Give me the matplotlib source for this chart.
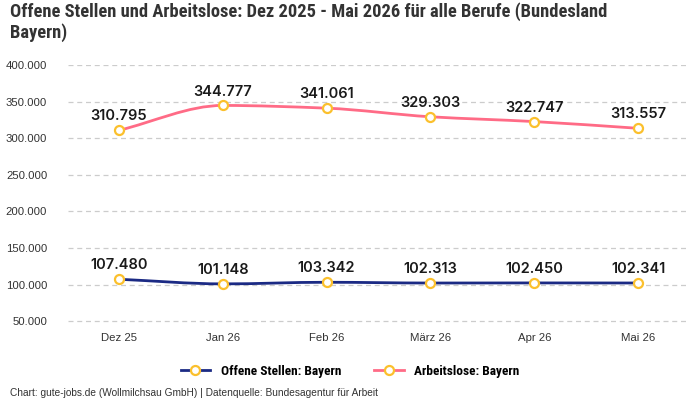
import matplotlib
matplotlib.use("Agg")
import matplotlib.pyplot as plt
from matplotlib import font_manager
from matplotlib.path import Path
from matplotlib.patches import PathPatch
from matplotlib.lines import Line2D
from matplotlib.ticker import FuncFormatter

months = ["Dez 25", "Jan 26", "Feb 26", "März 26", "Apr 26", "Mai 26"]
offene_stellen = [107480, 101148, 103342, 102313, 102450, 102341]
arbeitslose = [310795, 344777, 341061, 329303, 322747, 313557]

navy = "#1b2a84"
pink = "#ff6b86"
marker_edge = "#fbc02d"

installed = {f.name for f in font_manager.fontManager.ttflist}


def pick(*names):
    for n in names:
        if n in installed:
            return n
    return "DejaVu Sans"


narrow = pick("Liberation Sans Narrow", "Roboto Condensed", "DejaVu Sans Condensed", "Roboto")
label_font = pick("Inter", "Open Sans")


def de_fmt(v, pos=None):
    return f"{int(round(v)):,}".replace(",", ".")


def monotone_path(xs, ys):
    # monotone cubic (Fritsch-Carlson) drawn as bezier segments
    n = len(xs)
    d = [(ys[i + 1] - ys[i]) / (xs[i + 1] - xs[i]) for i in range(n - 1)]
    m = [0.0] * n
    m[0], m[-1] = d[0], d[-1]
    for i in range(1, n - 1):
        if d[i - 1] * d[i] <= 0:
            m[i] = 0.0
        else:
            m[i] = 2 / (1 / d[i - 1] + 1 / d[i])
    verts = [(xs[0], ys[0])]
    codes = [Path.MOVETO]
    for i in range(n - 1):
        h = (xs[i + 1] - xs[i]) / 3
        verts += [(xs[i] + h, ys[i] + m[i] * h),
                  (xs[i + 1] - h, ys[i + 1] - m[i + 1] * h),
                  (xs[i + 1], ys[i + 1])]
        codes += [Path.CURVE4] * 3
    return Path(verts, codes)


fig = plt.figure(figsize=(7, 4), dpi=100)
ax = fig.add_axes([68 / 700, 1 - 325 / 400, 620 / 700, 260 / 400])

x = list(range(len(months)))
for vals, col in [(offene_stellen, navy), (arbeitslose, pink)]:
    ax.add_patch(PathPatch(monotone_path(x, vals), fill=False, edgecolor=col,
                           lw=2, zorder=3))
    ax.plot(x, vals, ls="none", marker="o", ms=6.5, mfc="white",
            mec=marker_edge, mew=1.6, zorder=4)
    for xi, v in zip(x, vals):
        ax.annotate(de_fmt(v), (xi, v), xytext=(0, 5), textcoords="offset points",
                    ha="center", va="bottom", fontsize=10.5, fontweight="semibold",
                    family=label_font, color="#1a1a1a")

ax.set_xlim(-0.49, 5.48)
ax.set_ylim(45000, 400000)
ax.set_yticks([50000, 100000, 150000, 200000, 250000, 300000, 350000, 400000])
ax.yaxis.set_major_formatter(FuncFormatter(de_fmt))
ax.set_xticks(x)
ax.set_xticklabels(months)
ax.tick_params(axis="y", length=0, labelsize=8.2, labelcolor="#333333", pad=15)
ax.tick_params(axis="x", length=0, labelsize=8.2, labelcolor="#333333", pad=6)
for lbl in ax.get_xticklabels() + ax.get_yticklabels():
    lbl.set_family("Liberation Sans")
ax.grid(axis="y", color="#cccccc", ls=(0, (4, 3)), lw=0.9)
ax.set_axisbelow(True)
for s in ax.spines.values():
    s.set_visible(False)

fig.text(10 / 700, 1 - 2 / 400,
         "Offene Stellen und Arbeitslose: Dez 2025 - Mai 2026 für alle Berufe (Bundesland\nBayern)",
         ha="left", va="top", fontsize=13.3, fontweight="bold",
         family=narrow, color="#333333", linespacing=1.15)

handles = [
    Line2D([], [], color=navy, lw=2, marker="o", ms=6.5, mfc="white",
           mec=marker_edge, mew=1.6),
    Line2D([], [], color=pink, lw=2, marker="o", ms=6.5, mfc="white",
           mec=marker_edge, mew=1.6),
]
fig.legend(handles, ["Offene Stellen: Bayern", "Arbeitslose: Bayern"],
           loc="center", bbox_to_anchor=(350 / 700, 1 - 371 / 400), ncol=2,
           frameon=False, handlelength=2.2, columnspacing=2.5,
           prop={"family": narrow, "weight": "bold", "size": 9.6})

fig.text(10 / 700, 1 - 393 / 400,
         "Chart: gute-jobs.de (Wollmilchsau GmbH) | Datenquelle: Bundesagentur für Arbeit",
         ha="left", va="center", fontsize=7.3, family="Liberation Sans", color="#333333")

fig.savefig("out.png", dpi=100)
